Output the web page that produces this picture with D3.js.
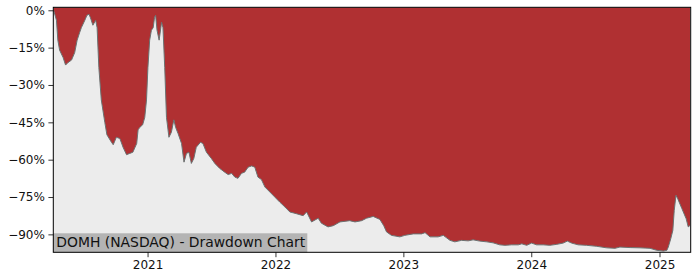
<!DOCTYPE html>
<html><head><meta charset="utf-8">
<script src="https://cdn.jsdelivr.net/npm/d3@7"></script>
<style>
body{margin:0;background:#fff}
svg{display:block}
text{font-family:"DejaVu Sans",sans-serif}
</style>
</head><body>
<svg id="chart" width="700" height="280"></svg>
<script>
const dates = [
"2020-04-08","2020-04-16","2020-04-20","2020-04-25","2020-05-05","2020-05-12","2020-05-19","2020-05-29","2020-06-07","2020-06-14",
"2020-06-21","2020-06-26","2020-07-06","2020-07-12","2020-07-18","2020-07-22","2020-07-29","2020-08-06","2020-08-10","2020-08-15",
"2020-08-22","2020-09-01","2020-09-07","2020-09-20","2020-09-25","2020-10-04","2020-10-14","2020-10-23","2020-11-02","2020-11-11",
"2020-11-20","2020-12-01","2020-12-05","2020-12-10","2020-12-18","2020-12-24","2020-12-29","2021-01-02","2021-01-07","2021-01-12",
"2021-01-17","2021-01-21","2021-01-24","2021-01-28","2021-02-03","2021-02-10","2021-02-14","2021-02-19","2021-02-24","2021-03-03",
"2021-03-10","2021-03-17","2021-03-22","2021-03-29","2021-04-08","2021-04-15","2021-04-22","2021-04-29","2021-05-06","2021-05-13",
"2021-05-20","2021-06-01","2021-06-08","2021-06-18","2021-07-02","2021-07-12","2021-07-26","2021-08-09","2021-08-19","2021-08-29",
"2021-09-07","2021-09-16","2021-09-26","2021-10-05","2021-10-15","2021-10-25","2021-11-03","2021-11-12","2021-11-22","2021-12-02",
"2021-12-16","2021-12-30","2022-01-13","2022-01-28","2022-02-11","2022-03-02","2022-03-21","2022-03-31","2022-04-14","2022-05-03",
"2022-05-12","2022-05-31","2022-06-15","2022-07-04","2022-08-01","2022-08-16","2022-09-04","2022-09-18","2022-10-07","2022-10-26",
"2022-11-06","2022-11-14","2022-11-28","2022-12-22","2023-01-05","2023-01-29","2023-02-22","2023-03-04","2023-03-18","2023-04-10",
"2023-04-25","2023-05-14","2023-05-28","2023-06-16","2023-07-05","2023-07-19","2023-08-07","2023-08-27","2023-09-14","2023-10-03",
"2023-10-18","2023-11-06","2023-11-25","2023-12-05","2023-12-19","2024-01-02","2024-01-16","2024-02-04","2024-02-23","2024-03-14",
"2024-04-01","2024-04-13","2024-04-25","2024-05-14","2024-06-07","2024-07-06","2024-08-03","2024-08-27","2024-09-10","2024-10-09",
"2024-11-06","2024-12-05","2024-12-24","2025-01-12","2025-01-22","2025-01-26","2025-02-02","2025-02-08","2025-02-12","2025-02-17",
"2025-02-22","2025-03-06","2025-03-18","2025-03-24","2025-03-29"
];
const drawdown = [
0,-4,-12,-16,-19,-22,-21,-20,-17,-12,
-9,-7,-4,-2,-1.6,-3,-6,-4,-7,-23,
-36,-45,-50,-53,-54,-51,-51.5,-55,-58,-57.5,
-57,-53.5,-48,-47,-46,-43,-36,-23,-12,-8,
-7,-2.8,-2,-8,-12,-4.8,-7,-23,-43,-51,
-49,-44,-47,-49.5,-53.5,-61,-57.5,-57,-61.5,-59.5,
-55,-53,-53.5,-57,-59.5,-61.5,-63.5,-65,-66,-65.5,
-67,-67.5,-65.5,-65,-63,-62.5,-63,-67,-68,-71,
-73,-75,-77,-79,-81,-81.7,-82.5,-81,-85,-83.5,
-85.5,-87,-86.5,-85,-84.5,-85,-84.5,-83.5,-82.8,-84,
-86.5,-89,-90.4,-91,-90.4,-89.8,-89.8,-89.3,-91,-91,
-90.4,-92.4,-93,-92.4,-92.6,-92.2,-92.7,-93,-93.4,-94.2,
-94.4,-94.2,-94.2,-93.8,-94.4,-93.5,-94.2,-94.2,-94.4,-94,
-93.5,-92.7,-93.5,-94.2,-94.4,-94.8,-95.4,-95.6,-95.1,-95.3,
-95.4,-95.6,-96.4,-96.7,-96.4,-95.1,-91.8,-88.4,-80.4,-74.3,
-75.7,-79.7,-83.7,-87,-86.4
];
const yTickValues = [0,-15,-30,-45,-60,-75,-90];
const xTickLabels = ["2021","2022","2023","2024","2025"];
const chartTitle = "DOMH (NASDAQ) - Drawdown Chart";
const xDomain = ["2020-04-07","2025-03-31"];
const yDomain = [-97.2, 1.2];

const parse = d3.utcParse("%Y-%m-%d");
const data = dates.map((d,i)=>({date:parse(d), v:drawdown[i]}));

const L = 53.3, R = 690.7, T = 7.3, B = 252.3;
const svg = d3.select("#chart");

const x = d3.scaleUtc().domain(xDomain.map(parse)).range([L, R]);
const y = d3.scaleLinear().domain(yDomain).range([B, T]);

svg.append("defs").append("clipPath").attr("id","clip")
  .append("rect").attr("x",L).attr("y",T).attr("width",R-L).attr("height",B-T);

const g = svg.append("g").attr("clip-path","url(#clip)");
g.append("rect").attr("x",L).attr("y",T).attr("width",R-L).attr("height",B-T).attr("fill","#ececec");

const area = d3.area().x(d=>x(d.date)).y0(T).y1(d=>y(d.v));
g.append("path").datum(data).attr("d",area).attr("fill","#b03032");

const line = d3.line().x(d=>x(d.date)).y(d=>y(d.v));
g.append("path").datum(data).attr("d",line).attr("fill","none")
  .attr("stroke","#6b7272").attr("stroke-width",1);

// label box
const lbl = svg.append("g");
lbl.append("rect").attr("x",L).attr("y",233.3).attr("width",254).attr("height",B-233.3).attr("fill","#b4b4b4");
lbl.append("text").attr("x",56.3).attr("y",247).attr("font-size","13.9px").attr("fill","#111").text(chartTitle);

// axes
const yAxis = d3.axisLeft(y).tickValues(yTickValues)
  .tickFormat(d => (d<0?"\u2212":"") + Math.abs(d) + "%")
  .tickSize(4.9).tickPadding(3.5);
const ya = svg.append("g").attr("transform",`translate(${L},0)`).call(yAxis);
ya.select(".domain").remove();
ya.selectAll("text").attr("font-size","12px").attr("fill","#111").attr("font-family","DejaVu Sans");
ya.selectAll("line").attr("stroke","#000").attr("stroke-width",0.8);

const xTicks = xTickLabels.map(s=>parse(s+"-01-01"));
const xAxis = d3.axisBottom(x).tickValues(xTicks)
  .tickFormat((d,i)=>xTickLabels[i]).tickSize(4.9).tickPadding(3.5);
const xa = svg.append("g").attr("transform",`translate(0,${B})`).call(xAxis);
xa.select(".domain").remove();
xa.selectAll("text").attr("font-size","12px").attr("fill","#111").attr("font-family","DejaVu Sans");
xa.selectAll("line").attr("stroke","#000").attr("stroke-width",0.8);

svg.append("rect").attr("x",L).attr("y",T).attr("width",R-L).attr("height",B-T)
  .attr("fill","none").attr("stroke","#000").attr("stroke-width",1);
</script>
</body></html>
